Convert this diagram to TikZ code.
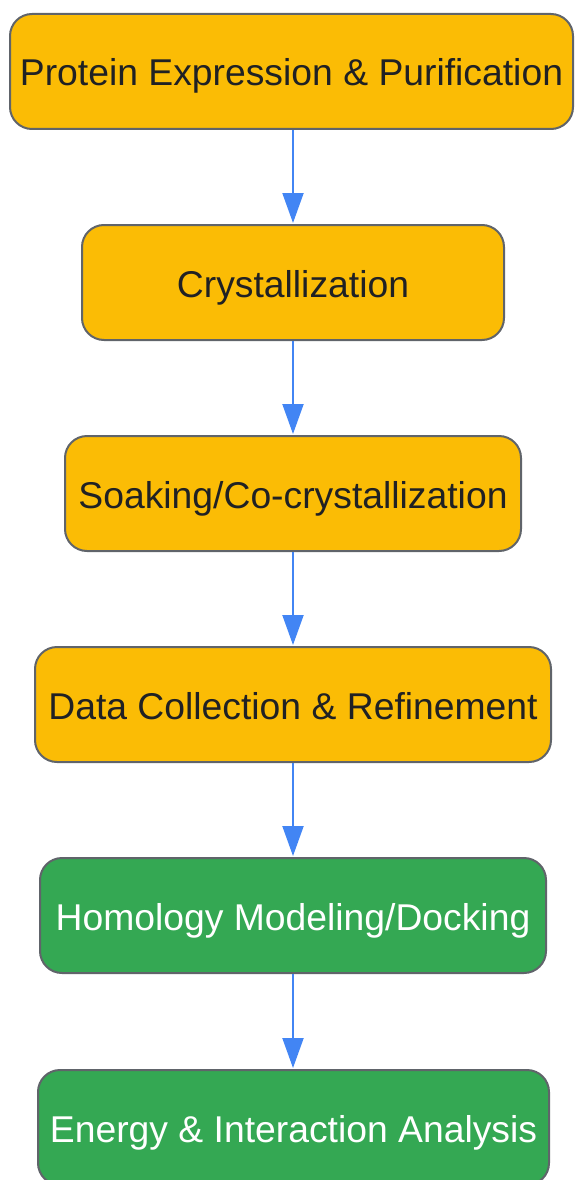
\documentclass[tikz,border=0pt]{standalone}
\usepackage{fontspec}
\setmainfont{Liberation Sans}
\usetikzlibrary{arrows.meta}
\definecolor{boxorange}{HTML}{FBBC05}
\definecolor{boxgreen}{HTML}{34A853}
\definecolor{arrowblue}{HTML}{4285F4}
\definecolor{boxborder}{HTML}{60646A}
\definecolor{darktext}{HTML}{202124}
\tikzset{
  stepbox/.style={draw=boxborder, line width=2pt, rounded corners=22pt, minimum height=115pt, inner sep=0pt, text height=29pt, text depth=0pt, font=\fontsize{37.3}{44}\selectfont},
  orangebox/.style={stepbox, fill=boxorange, text=darktext},
  greenbox/.style={stepbox, fill=boxgreen, text=white},
  flow/.style={draw=arrowblue, line width=2pt, -{Triangle[length=30pt,width=21pt]}, shorten >=1pt}
}
\begin{document}
\begin{tikzpicture}[x=1pt,y=-1pt]
\useasboundingbox (0,0) rectangle (574,1180);
\begin{scope}
\clip (0,0) rectangle (574,1180);
\node[orangebox, minimum width=563pt] (n1) at (291.5,71.5) {Protein Expression \& Purification};
\node[orangebox, minimum width=422pt] (n2) at (293,282.5) {Crystallization};
\node[orangebox, minimum width=456pt] (n3) at (293,493.5) {Soaking/Co-crystallization};
\node[orangebox, minimum width=516pt] (n4) at (293,704.5) {Data Collection \& Refinement};
\node[greenbox, minimum width=506pt] (n5) at (293,915.5) {Homology Modeling/Docking};
\node[greenbox, minimum width=511pt] (n6) at (293.5,1127.5) {Energy \& Interaction Analysis};
\draw[flow] (n1.south -| 293,0) -- (n2.north);
\draw[flow] (n2.south) -- (n3.north);
\draw[flow] (n3.south) -- (n4.north);
\draw[flow] (n4.south) -- (n5.north);
\draw[flow] (n5.south) -- (n6.north -| 293,0);
\end{scope}
\end{tikzpicture}
\end{document}
